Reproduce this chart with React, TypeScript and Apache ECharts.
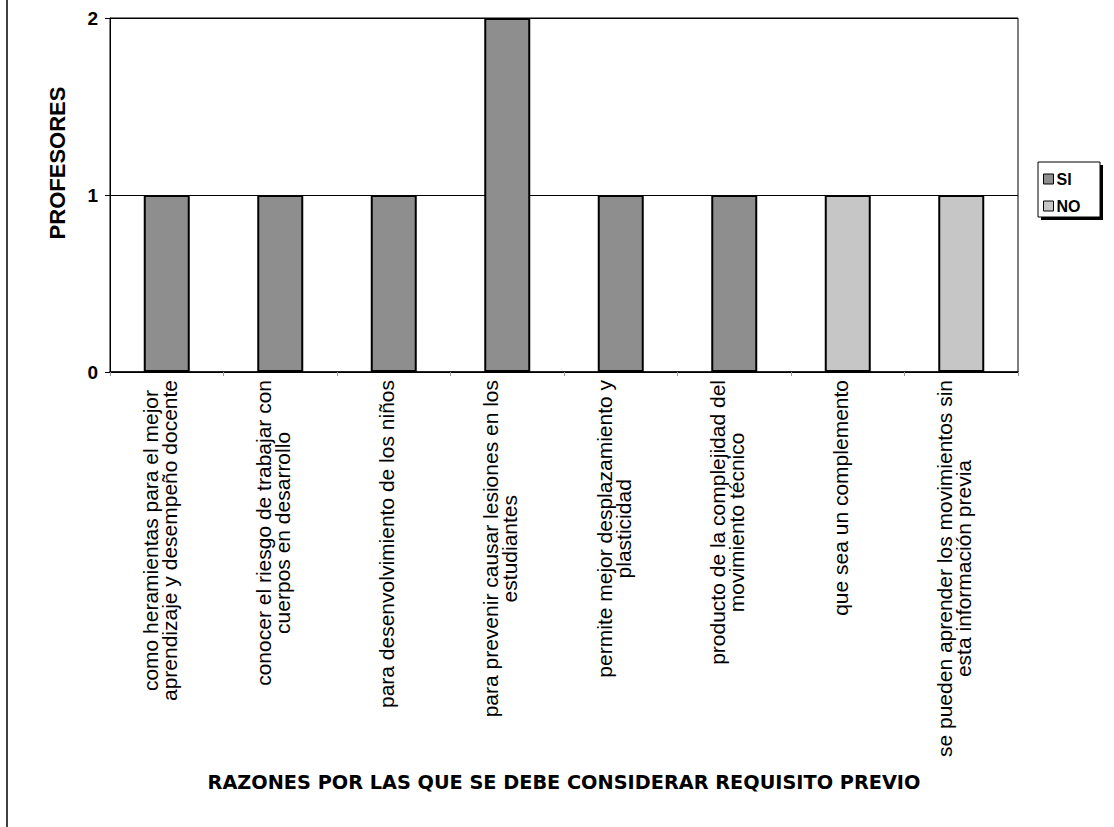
import React, { useEffect, useRef } from "react";
import * as echarts from "echarts";

const categories = [
  "como heramientas para el mejor\naprendizaje y desempeño docente",
  "conocer el riesgo de trabajar con\ncuerpos en desarrollo",
  "para desenvolvimiento de los niños",
  "para prevenir causar lesiones en los\nestudiantes",
  "permite mejor desplazamiento y\nplasticidad",
  "producto de la complejidad del\nmovimiento técnico",
  "que sea un complemento",
  "se pueden aprender los movimientos sin\nesta información previa",
];
const siValues: (number | string)[] = [1, 1, 1, 2, 1, 1, "-", "-"];
const noValues: (number | string)[] = ["-", "-", "-", "-", "-", "-", 1, 1];
const seriesNames = ["SI", "NO"];
const yTicks = { min: 0, max: 2, interval: 1 };
const yAxisTitle = "PROFESORES";
const xAxisTitle = "RAZONES POR LAS QUE SE DEBE CONSIDERAR REQUISITO PREVIO";

const FONT = "'Liberation Sans', Arial, sans-serif";
const WIDE_BOLD = "'DejaVu Sans', 'Liberation Sans', sans-serif";

export default function App() {
  const ref = useRef<HTMLDivElement>(null);
  useEffect(() => {
    if (!ref.current) return;
    const chart = echarts.init(ref.current, undefined, { renderer: "svg" });
    chart.setOption({
      animation: false,
      backgroundColor: "#ffffff",
      grid: {
        left: 110,
        right: 96,
        top: 18,
        bottom: 455,
        show: true,
        borderColor: "#000",
        borderWidth: 1,
        containLabel: false,
      },
      legend: {
        orient: "vertical",
        left: 1043,
        top: 171,
        icon: "rect",
        itemWidth: 10,
        itemHeight: 10,
        itemGap: 11,
        padding: 0,
        z: 10,
        data: seriesNames,
        itemStyle: { borderColor: "#000", borderWidth: 1 },
        textStyle: { fontFamily: FONT, fontSize: 16, fontWeight: "bold", color: "#000", padding: [0, 0, 0, -2] },
      },
      xAxis: {
        type: "category",
        data: categories,
        name: xAxisTitle,
        nameLocation: "middle",
        nameGap: 401,
        nameTextStyle: { fontFamily: WIDE_BOLD, fontSize: 19.3, fontWeight: "bold", color: "#000" },
        axisLine: { show: true, lineStyle: { color: "#000", width: 1.5 } },
        axisTick: { show: true, alignWithLabel: false, length: 4, lineStyle: { color: "#999" } },
        axisLabel: {
          interval: 0,
          rotate: 90,
          margin: 8,
          color: "#000",
          fontFamily: FONT,
          fontSize: 21,
          lineHeight: 19,
          padding: [0, 0, 14, 0],
          formatter: (v: string) =>
            v
              .split("\n")
              .map((l) => `{c|${l}}`)
              .join("\n"),
          rich: {
            c: { align: "center", fontFamily: FONT, fontSize: 21, lineHeight: 19, color: "#000" },
          },
        },
      },
      yAxis: {
        type: "value",
        min: yTicks.min,
        max: yTicks.max,
        interval: yTicks.interval,
        name: yAxisTitle,
        nameLocation: "middle",
        nameGap: 42,
        nameTextStyle: { fontFamily: FONT, fontSize: 22, fontWeight: "bold", color: "#000", padding: [0, 0, 0, 64] },
        axisLine: { show: true, lineStyle: { color: "#000", width: 1 } },
        axisTick: { show: true, length: 5, lineStyle: { color: "#000" } },
        axisLabel: { margin: 12, fontFamily: FONT, fontSize: 19, fontWeight: "bold", color: "#000" },
        splitLine: { show: true, lineStyle: { color: "#000", width: 1 } },
      },
      series: [
        {
          name: seriesNames[0],
          type: "bar",
          stack: "total",
          data: siValues,
          barWidth: 46,
          itemStyle: { color: "#8e8e8e", borderColor: "#000", borderWidth: 2 },
        },
        {
          name: seriesNames[1],
          type: "bar",
          stack: "total",
          data: noValues,
          barWidth: 46,
          itemStyle: { color: "#c6c6c6", borderColor: "#000", borderWidth: 2 },
        },
      ],
      graphic: [
        { type: "line", shape: { x1: 7, y1: 0, x2: 7, y2: 827 }, style: { stroke: "#000", lineWidth: 1.5 } },
        { type: "rect", shape: { x: 1041, y: 165, width: 62, height: 55 }, style: { fill: "#000" }, z: 0 },
        { type: "rect", shape: { x: 1038, y: 162, width: 62, height: 55 }, style: { fill: "#fff", stroke: "#000", lineWidth: 1 }, z: 1 },
      ],
    });
    return () => chart.dispose();
  }, []);
  return <div ref={ref} style={{ position: "fixed", left: 0, top: 0, width: 1114, height: 827 }} />;
}
